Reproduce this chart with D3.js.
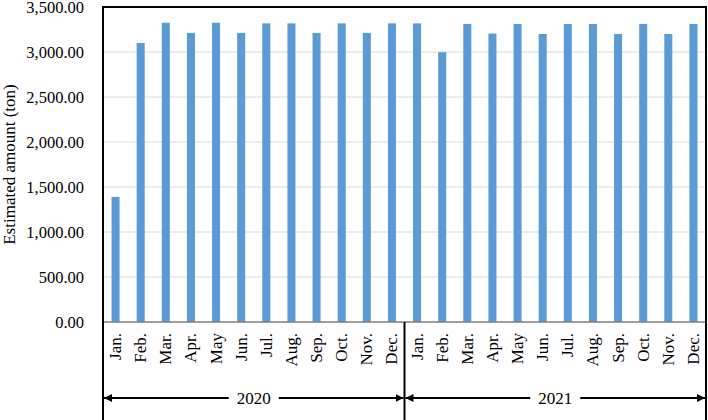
<!doctype html>
<html>
<head>
<meta charset="utf-8">
<title>Estimated amount</title>
<script src="https://cdnjs.cloudflare.com/ajax/libs/d3/7.8.5/d3.min.js"></script>
<style>
  html, body { margin: 0; padding: 0; background: #fff; }
  svg { display: block; }
  text { font-family: "Liberation Serif", "Times New Roman", serif; fill: #000; }
</style>
</head>
<body>
<script>
// data
var months = ["Jan.", "Feb.", "Mar.", "Apr.", "May", "Jun.", "Jul.", "Aug.", "Sep.", "Oct.", "Nov.", "Dec."];
var years = ["2020", "2021"];
var values2020 = [1390, 3100, 3325, 3212, 3325, 3212, 3318, 3318, 3212, 3318, 3212, 3318];
var values2021 = [3318, 2998, 3312, 3205, 3312, 3200, 3312, 3312, 3200, 3312, 3200, 3312];
var yTicks = [0, 500, 1000, 1500, 2000, 2500, 3000, 3500];

var width = 708, height = 420;
var m = { left: 103, right: 2, top: 7, bottom: 98 };

var data = [];
years.forEach(function (yr, i) {
  var vals = i === 0 ? values2020 : values2021;
  months.forEach(function (mo, j) {
    data.push({ key: yr + "-" + j, year: yr, month: mo, value: vals[j] });
  });
});

var svg = d3.select("body").append("svg")
  .attr("width", width)
  .attr("height", height);

var x = d3.scaleBand()
  .domain(data.map(function (d) { return d.key; }))
  .range([m.left, width - m.right])
  .paddingInner(0.68)
  .paddingOuter(0.34);

var y = d3.scaleLinear()
  .domain([0, 3500])
  .range([height - m.bottom, m.top]);

var base = y(0);

// gridlines
svg.append("g").selectAll("line")
  .data(yTicks.slice(1))
  .enter().append("line")
  .attr("x1", m.left).attr("x2", width - m.right)
  .attr("y1", function (d) { return y(d); })
  .attr("y2", function (d) { return y(d); })
  .attr("stroke", "#d9d9d9")
  .attr("stroke-width", 1);

// bars
svg.append("g").selectAll("rect")
  .data(data)
  .enter().append("rect")
  .attr("x", function (d) { return x(d.key); })
  .attr("width", x.bandwidth())
  .attr("y", function (d) { return y(d.value); })
  .attr("height", function (d) { return base - y(d.value); })
  .attr("fill", "#5b9bd5");

// baseline
svg.append("line")
  .attr("x1", m.left).attr("x2", width - m.right)
  .attr("y1", base).attr("y2", base)
  .attr("stroke", "#7f7f7f")
  .attr("stroke-width", 1.5);

// y axis labels
var fmt = d3.format(",.2f");
svg.append("g").selectAll("text")
  .data(yTicks)
  .enter().append("text")
  .attr("x", 84)
  .attr("y", function (d) { return y(d); })
  .attr("dy", "0.35em")
  .attr("text-anchor", "end")
  .attr("font-size", "16.5px")
  .text(function (d) { return fmt(d); });

svg.append("text")
  .attr("transform", "translate(15," + (m.top + base) / 2 + ") rotate(-90)")
  .attr("text-anchor", "middle")
  .attr("font-size", "17px")
  .text("Estimated amount (ton)");

// month labels
svg.append("g").selectAll("text")
  .data(data)
  .enter().append("text")
  .attr("transform", function (d) {
    return "translate(" + (x(d.key) + x.bandwidth() / 2 + 5.5) + "," + (base + 11) + ") rotate(-90)";
  })
  .attr("text-anchor", "end")
  .attr("font-size", "17px")
  .text(function (d) { return d.month; });

// frame
var frame = svg.append("g").attr("stroke", "#000").attr("fill", "none");
frame.append("path")
  .attr("d", "M" + m.left + "," + height + "V" + m.top + "H" + (width - m.right) + "V" + height)
  .attr("stroke-width", 2);

// year dividers and arrows
var step = x.step();
var yearStart = function (i) { return x(years[i] + "-0") - x.paddingOuter() * step; };
var yearEnd = function (i) { return x(years[i] + "-11") + x.bandwidth() + x.paddingOuter() * step; };

svg.append("line")
  .attr("x1", yearEnd(0)).attr("x2", yearEnd(0))
  .attr("y1", base).attr("y2", height)
  .attr("stroke", "#000").attr("stroke-width", 2);

var defs = svg.append("defs");
defs.append("marker")
  .attr("id", "arr")
  .attr("viewBox", "0 0 10 10")
  .attr("refX", 10).attr("refY", 5)
  .attr("markerWidth", 8).attr("markerHeight", 8)
  .attr("markerUnits", "userSpaceOnUse")
  .attr("orient", "auto")
  .append("path")
  .attr("d", "M0,0L10,5L0,10z")
  .attr("fill", "#000");

var arrowY = 398;
years.forEach(function (yr, i) {
  var x0 = yearStart(i) + 1, x1 = yearEnd(i) - 1;
  var cx = (x0 + x1) / 2;
  var gap = 25;
  svg.append("line")
    .attr("x1", cx - gap).attr("x2", x0)
    .attr("y1", arrowY).attr("y2", arrowY)
    .attr("stroke", "#000").attr("stroke-width", 2)
    .attr("marker-end", "url(#arr)");
  svg.append("line")
    .attr("x1", cx + gap).attr("x2", x1)
    .attr("y1", arrowY).attr("y2", arrowY)
    .attr("stroke", "#000").attr("stroke-width", 2)
    .attr("marker-end", "url(#arr)");
  svg.append("text")
    .attr("x", cx)
    .attr("y", arrowY)
    .attr("dy", "0.35em")
    .attr("text-anchor", "middle")
    .attr("font-size", "17px")
    .text(yr);
});
</script>
</body>
</html>
